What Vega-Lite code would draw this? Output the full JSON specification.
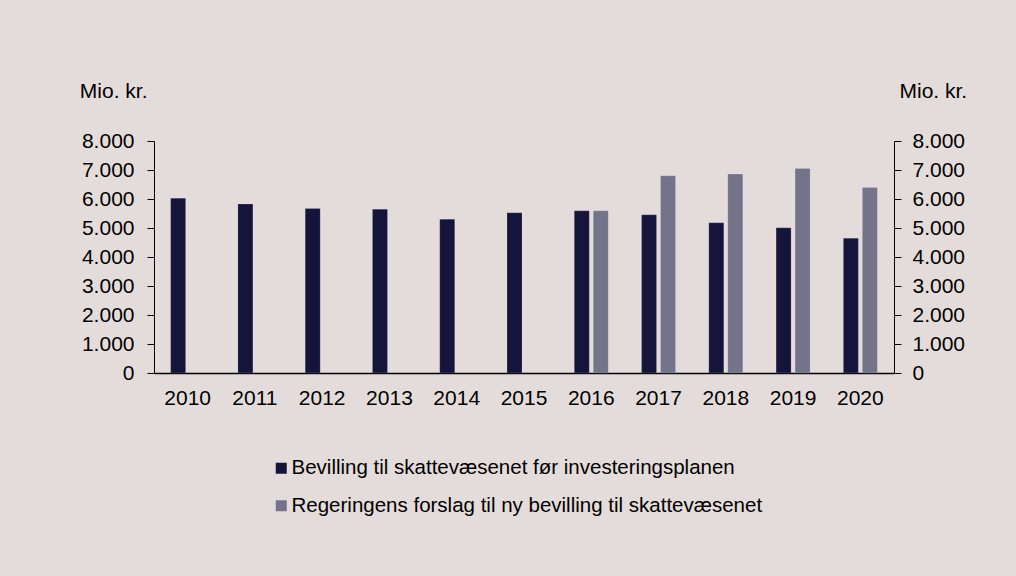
{
  "$schema": "https://vega.github.io/schema/vega-lite/v6.json",
  "autosize": {"type": "none"},
  "width": 740,
  "height": 232,
  "padding": {"left": 154, "top": 141, "right": 122, "bottom": 203},
  "background": "#e4dcda",
  "config": {
    "view": {"stroke": null},
    "font": "Liberation Sans",
    "axis": {"grid": false, "domainColor": "#000000", "tickColor": "#000000", "labelColor": "#000000", "titleColor": "#000000", "labelFontSize": 21, "titleFontSize": 21, "titleFontWeight": "normal", "labelFont": "Liberation Sans", "titleFont": "Liberation Sans"},
    "legend": {"labelFont": "Liberation Sans"}
  },
  "data": {
    "values": [
      {"year": "2010", "series": "Bevilling til skattevæsenet før investeringsplanen", "value": 6030},
      {"year": "2011", "series": "Bevilling til skattevæsenet før investeringsplanen", "value": 5825},
      {"year": "2012", "series": "Bevilling til skattevæsenet før investeringsplanen", "value": 5675},
      {"year": "2013", "series": "Bevilling til skattevæsenet før investeringsplanen", "value": 5650},
      {"year": "2014", "series": "Bevilling til skattevæsenet før investeringsplanen", "value": 5305},
      {"year": "2015", "series": "Bevilling til skattevæsenet før investeringsplanen", "value": 5525},
      {"year": "2016", "series": "Bevilling til skattevæsenet før investeringsplanen", "value": 5595},
      {"year": "2017", "series": "Bevilling til skattevæsenet før investeringsplanen", "value": 5455},
      {"year": "2018", "series": "Bevilling til skattevæsenet før investeringsplanen", "value": 5180},
      {"year": "2019", "series": "Bevilling til skattevæsenet før investeringsplanen", "value": 5005},
      {"year": "2020", "series": "Bevilling til skattevæsenet før investeringsplanen", "value": 4650},
      {"year": "2016", "series": "Regeringens forslag til ny bevilling til skattevæsenet", "value": 5595},
      {"year": "2017", "series": "Regeringens forslag til ny bevilling til skattevæsenet", "value": 6800},
      {"year": "2018", "series": "Regeringens forslag til ny bevilling til skattevæsenet", "value": 6860},
      {"year": "2019", "series": "Regeringens forslag til ny bevilling til skattevæsenet", "value": 7055},
      {"year": "2020", "series": "Regeringens forslag til ny bevilling til skattevæsenet", "value": 6400}
    ]
  },
  "encoding": {
    "x": {
      "field": "year", "type": "nominal",
      "scale": {"paddingInner": 0.495, "paddingOuter": 0.2475},
      "axis": {"title": null, "labelAngle": 0, "ticks": false, "labelPadding": 14, "domainWidth": 1.3}
    },
    "xOffset": {
      "field": "series", "type": "nominal",
      "scale": {"domain": ["Bevilling til skattevæsenet før investeringsplanen", "Regeringens forslag til ny bevilling til skattevæsenet"], "paddingInner": 0.2105, "paddingOuter": 0}
    },
    "y": {
      "field": "value", "type": "quantitative",
      "scale": {"domain": [0, 8000], "nice": false}
    }
  },
  "layer": [
    {
      "mark": {"type": "bar", "stroke": "#ffffff", "strokeOpacity": 0.25, "strokeWidth": 0.6},
      "encoding": {
        "y": {
          "field": "value", "type": "quantitative",
          "scale": {"domain": [0, 8000], "nice": false},
          "axis": {
            "orient": "left", "values": [0, 1000, 2000, 3000, 4000, 5000, 6000, 7000, 8000],
            "labelExpr": "replace(format(datum.value, ',d'), ',', '.')",
            "tickSize": 7, "labelPadding": 13,
            "title": "Mio. kr.", "titleAngle": 0, "titleX": -7, "titleY": -44, "titleAlign": "right", "titleBaseline": "alphabetic"
          }
        },
        "color": {
          "field": "series", "type": "nominal",
          "scale": {"domain": ["Bevilling til skattevæsenet før investeringsplanen", "Regeringens forslag til ny bevilling til skattevæsenet"], "range": ["#15153b", "#737389"]},
          "legend": {
            "title": null, "orient": "none", "legendX": 117, "legendY": 317, "direction": "vertical",
            "symbolType": "square", "symbolSize": 121, "symbolStrokeWidth": 0, "labelFontSize": 20.5, "labelColor": "#000000",
            "labelOffset": 0, "rowPadding": 16.5, "padding": 0, "labelLimit": 800
          }
        }
      }
    },
    {
      "mark": {"type": "bar", "opacity": 0},
      "encoding": {
        "y": {
          "field": "value", "type": "quantitative",
          "scale": {"domain": [0, 8000], "nice": false},
          "axis": {
            "orient": "right", "values": [0, 1000, 2000, 3000, 4000, 5000, 6000, 7000, 8000],
            "labelExpr": "replace(format(datum.value, ',d'), ',', '.')",
            "tickSize": 7, "labelPadding": 11,
            "title": "Mio. kr.", "titleAngle": 0, "titleX": 5, "titleY": -44, "titleAlign": "left", "titleBaseline": "alphabetic"
          }
        }
      }
    }
  ],
  "resolve": {"axis": {"y": "independent"}}
}
